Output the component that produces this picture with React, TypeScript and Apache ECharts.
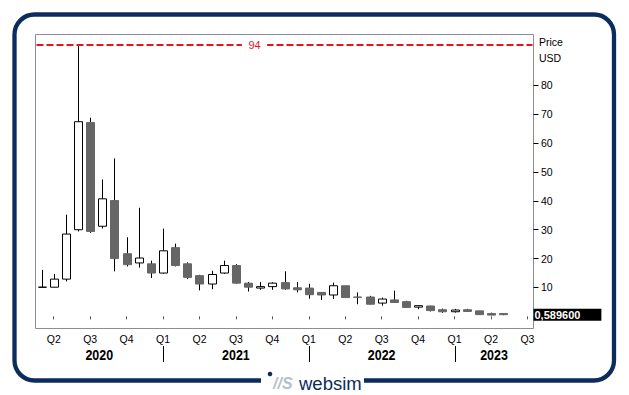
import React, { useEffect, useRef } from 'react';
import * as echarts from 'echarts';

// ---- data (monthly candles, USD) ----
const months = [
  '2020-03', '2020-04', '2020-05', '2020-06', '2020-07', '2020-08', '2020-09', '2020-10', '2020-11', '2020-12',
  '2021-01', '2021-02', '2021-03', '2021-04', '2021-05', '2021-06', '2021-07', '2021-08', '2021-09', '2021-10',
  '2021-11', '2021-12', '2022-01', '2022-02', '2022-03', '2022-04', '2022-05', '2022-06', '2022-07', '2022-08',
  '2022-09', '2022-10', '2022-11', '2022-12', '2023-01', '2023-02', '2023-03', '2023-04', '2023-05', '2023-06',
  '2023-07',
];
const opens = [10.1, 10.1, 12.9, 30.0, 67.1, 31.2, 40.1, 21.7, 18.5, 18.2, 15.0, 23.8, 18.2, 14.1, 11.2, 15.0, 17.6, 11.5, 9.8, 10.3, 11.7, 9.9, 9.8, 8.3, 7.4, 10.6, 6.7, 6.7, 4.6, 5.7, 5.1, 3.2, 3.6, 2.3, 1.6, 2.3, 1.9, 1.0, 1.0];
const closes = [10.1, 12.9, 28.5, 67.4, 29.4, 40.7, 20.0, 17.9, 20.2, 15.0, 22.7, 17.6, 13.5, 11.2, 14.5, 17.6, 11.5, 10.1, 10.3, 11.5, 9.5, 9.2, 7.5, 7.4, 10.6, 6.5, 6.6, 4.2, 6.0, 4.8, 3.1, 3.7, 2.0, 1.6, 2.2, 1.7, 0.6, 0.45, 0.5896];
const highs = [16.1, 14.7, 35.2, 94.0, 68.8, 47.4, 54.7, 27.4, 37.6, 19.3, 30.4, 25.2, 18.7, 14.4, 15.8, 19.3, 18.1, 11.9, 11.9, 11.8, 15.6, 11.9, 11.3, 8.4, 11.7, 10.6, 8.3, 7.1, 6.5, 8.9, 5.4, 3.8, 3.7, 2.7, 2.6, 2.6, 1.9, 1.3, 1.1];
const lows = [10.1, 10.1, 12.1, 29.4, 28.9, 30.4, 15.6, 17.3, 16.9, 13.3, 14.8, 17.3, 12.9, 9.0, 9.4, 14.7, 11.3, 8.6, 9.2, 9.2, 9.2, 8.3, 6.1, 5.7, 6.0, 6.5, 4.2, 4.2, 3.7, 4.7, 3.0, 2.5, 1.7, 1.2, 1.3, 1.5, 0.6, 0.4, 0.4];

const yTickValues = [10, 20, 30, 40, 50, 60, 70, 80];
const highMarkValue = 94;
const lastPrice = 0.5896;
const lastPriceLabel = '0,589600';
const axisUnitLabels = ['Price', 'USD'];
const yearLabels = ['2020', '2021', '2022', '2023'];
const yearStarts = ['2021-01', '2022-01', '2023-01'];
const quarterStartMonths = ['01', '04', '07', '10'];

const FONT = 'Arial, "Liberation Sans", sans-serif';
const NAVY = '#0b2c5c';
const RED = '#e8141c';
const W = 629;
const H = 395;
const GRID = { left: 35.5, top: 34.5, right: 95.5, bottom: 66.5 };

const isQuarterStart = (i: number) => quarterStartMonths.includes(months[i].slice(5));
const quarterName = (m: string) => 'Q' + (Math.floor((parseInt(m.slice(5), 10) - 1) / 3) + 1);

export default function App() {
  const ref = useRef<HTMLDivElement>(null);

  useEffect(() => {
    if (!ref.current) return;
    const chart = echarts.init(ref.current, null, { renderer: 'svg' });

    const data = opens.map((o, i) => [i, o, closes[i], lows[i], highs[i]]);

    const renderItem = (_params: any, api: any) => {
      const i = api.value(0);
      const o = api.value(1);
      const c = api.value(2);
      const l = api.value(3);
      const h = api.value(4);
      const pO = api.coord([i, o]);
      const pC = api.coord([i, c]);
      const pL = api.coord([i, l]);
      const pH = api.coord([i, h]);
      const xc = Math.round(pO[0]) + 0.5;
      const bw = 8;
      const top = Math.min(pO[1], pC[1]);
      const bot = Math.max(pO[1], pC[1]);
      const up = c >= o;
      return {
        type: 'group',
        children: [
          {
            type: 'line',
            shape: { x1: xc, y1: pH[1], x2: xc, y2: pL[1] },
            style: { stroke: '#000', lineWidth: 1 },
          },
          {
            type: 'rect',
            shape: { x: xc - bw / 2, y: top, width: bw, height: Math.max(bot - top, 0) },
            style: up
              ? { fill: '#fff', stroke: '#000', lineWidth: 1 }
              : { fill: '#666666', stroke: '#666666', lineWidth: 1 },
          },
        ],
      };
    };

    const option: any = {
      animation: false,
      textStyle: { fontFamily: FONT },
      grid: { ...GRID, show: true, borderColor: '#8c8c9c', borderWidth: 1, backgroundColor: '#fff' },
      xAxis: {
        type: 'category',
        data: months,
        boundaryGap: true,
        axisLine: { show: false },
        axisTick: {
          show: true,
          length: 3,
          alignWithLabel: true,
          interval: (i: number) => isQuarterStart(i),
          lineStyle: { color: '#555' },
        },
        axisLabel: {
          interval: (i: number) => isQuarterStart(i),
          formatter: (v: string) => quarterName(v),
          color: '#000',
          fontSize: 10.5,
          fontFamily: FONT,
          margin: 5,
        },
        splitLine: { show: false },
      },
      yAxis: {
        type: 'value',
        position: 'right',
        min: -4.2,
        max: 97.6,
        axisLine: { show: false },
        axisTick: { show: true, length: 5, customValues: yTickValues, lineStyle: { color: '#000' } },
        axisLabel: { customValues: yTickValues, color: '#000', fontSize: 10.5, fontFamily: FONT, margin: 7.5 },
        splitLine: { show: false },
      },
      series: [
        {
          type: 'custom',
          renderItem,
          data,
          encode: { x: 0, y: [1, 2, 3, 4] },
          clip: false,
          silent: true,
        },
        {
          type: 'line',
          data: [],
          silent: true,
          markLine: {
            silent: true,
            symbol: ['none', 'none'],
            animation: false,
            lineStyle: { color: 'rgba(0,0,0,0)', width: 0, opacity: 0 },
            label: {
              show: true,
              position: 'end',
              distance: 0,
              formatter: lastPriceLabel,
              color: '#fff',
              backgroundColor: '#000',
              fontWeight: 'bold',
              fontSize: 11,
              fontFamily: FONT,
              padding: [1, 21, 0, 1],
              align: 'left',
              opacity: 1,
            },
            data: [{ yAxis: lastPrice }],
          },
        },
      ],
    };

    chart.setOption(option);

    // positions from the axis scales
    const xOf = (m: string) => chart.convertToPixel({ xAxisIndex: 0 }, m) as number;
    const yOf = (v: number) => chart.convertToPixel({ yAxisIndex: 0 }, v) as number;
    const gridLeft = GRID.left;
    const gridRight = W - GRID.right;
    const seps = yearStarts.map(xOf);
    const bounds = [gridLeft, ...seps, gridRight];
    const yHigh = Math.round(yOf(highMarkValue));
    const highLabelX = 254.5;

    const graphics: any[] = [
      {
        type: 'line',
        shape: { x1: gridLeft + 1, y1: yHigh, x2: gridRight - 1, y2: yHigh },
        style: { stroke: RED, lineWidth: 2, lineDash: [7, 3] },
        z: 5,
        silent: true,
      },
      {
        type: 'text',
        x: highLabelX,
        y: yHigh,
        style: {
          text: String(highMarkValue),
          fill: RED,
          font: '11px ' + FONT,
          align: 'center',
          verticalAlign: 'middle',
          backgroundColor: '#fff',
          padding: [0, 6.5],
        },
        z: 6,
        silent: true,
      },
      {
        type: 'rect',
        shape: { x: 14.5, y: 14.5, width: 599.5, height: 366, r: 20 },
        style: { fill: 'none', stroke: NAVY, lineWidth: 4.3 },
        z: 10,
        silent: true,
      },
      {
        type: 'rect',
        shape: { x: 261, y: 375, width: 103, height: 12 },
        style: { fill: '#fff' },
        z: 11,
        silent: true,
      },
      {
        type: 'circle',
        shape: { cx: 270, cy: 374, r: 2.3 },
        style: { fill: NAVY },
        z: 12,
      },
      {
        type: 'text',
        x: 273,
        y: 383,
        style: { text: '//S', fill: '#b5bfcd', font: 'italic bold 16px ' + FONT, verticalAlign: 'middle' },
        z: 12,
      },
      {
        type: 'text',
        x: 299,
        y: 383,
        style: { text: 'websim', fill: NAVY, font: '18.5px ' + FONT, verticalAlign: 'middle' },
        z: 12,
      },
      ...axisUnitLabels.map((t, i) => ({
        type: 'text',
        x: 539,
        y: 41.5 + i * 16,
        style: { text: t, fill: '#000', font: '10.5px ' + FONT, verticalAlign: 'middle' },
      })),
      ...seps.map((x) => ({
        type: 'line',
        shape: { x1: Math.round(x) + 0.5, y1: 346, x2: Math.round(x) + 0.5, y2: 362 },
        style: { stroke: '#000', lineWidth: 1 },
      })),
      ...yearLabels.map((t, i) => ({
        type: 'text',
        x: (bounds[i] + bounds[i + 1]) / 2,
        y: 355,
        scaleX: 0.89,
        style: { text: t, fill: '#000', font: 'bold 14px ' + FONT, align: 'center', verticalAlign: 'middle' },
      })),
    ];

    chart.setOption({ graphic: graphics });

    return () => chart.dispose();
  }, []);

  return (
    <div style={{ position: 'absolute', left: 0, top: 0, width: W, height: H, background: '#fff' }}>
      <div ref={ref} style={{ width: W, height: H }} />
    </div>
  );
}
